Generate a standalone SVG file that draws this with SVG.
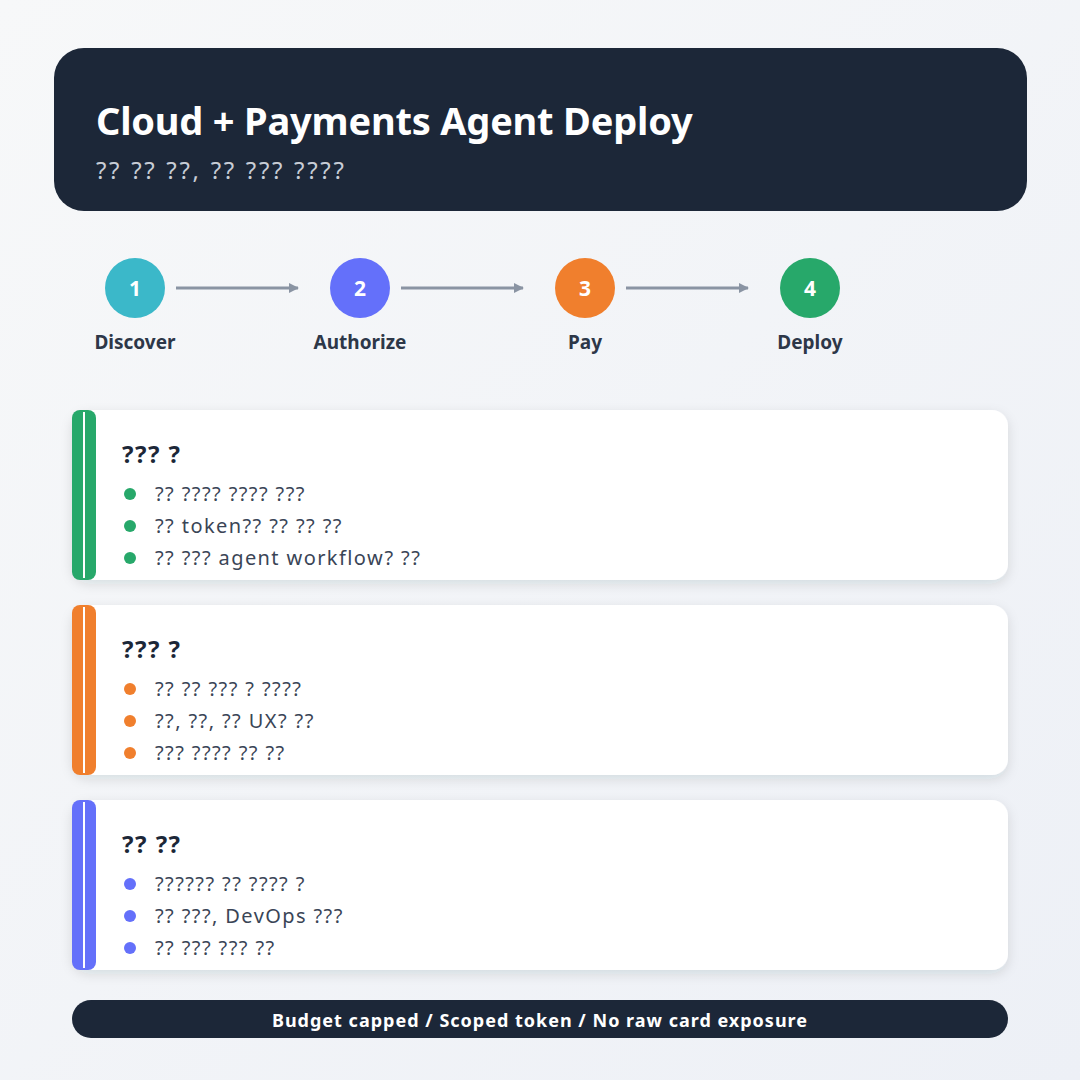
<svg xmlns="http://www.w3.org/2000/svg" width="1080" height="1080" viewBox="0 0 1080 1080">
<defs>
<linearGradient id="bg" x1="0" y1="0" x2="1" y2="1"><stop offset="0" stop-color="#f7f8f9"/><stop offset="1" stop-color="#edf0f6"/></linearGradient>
<filter id="sh" x="-5%" y="-20%" width="110%" height="140%"><feDropShadow dx="0" dy="4" stdDeviation="6" flood-color="#1c2738" flood-opacity="0.12"/></filter>
<marker id="ah" markerWidth="10" markerHeight="10" refX="9" refY="5" orient="auto" markerUnits="userSpaceOnUse"><path d="M0,0 L18,5 L0,10 Z" fill="#8a94a3" transform="scale(0.55,1)"/></marker>
<style>
text{font-family:"Noto Sans","DejaVu Sans",sans-serif}
.lbl{font-size:19px;font-weight:700;fill:#2d3748;text-anchor:middle}
.num{font-size:21px;font-weight:700;fill:#fff;text-anchor:middle}
.ct{font-size:24px;font-weight:700;fill:#1c2738;letter-spacing:1.5px}
.it{font-size:20px;fill:#3a4556;letter-spacing:1.4px}
.card{fill:#fff}
.arr{stroke:#8a94a3;stroke-width:3;fill:none}
</style>
</defs>
<rect width="1080" height="1080" fill="url(#bg)"/>
<g id="header">
<rect x="54" y="48" width="973" height="163" rx="30" fill="#1c2738"/>
<text x="96" y="135" font-size="38" font-weight="700" fill="#fff" letter-spacing="-0.2">Cloud + Payments Agent Deploy</text>
<text x="96" y="179" font-size="24" fill="#c8cdd6" letter-spacing="2.7">?? ?? ??, ?? ??? ????</text>
</g>
<g id="connectors">
<line class="arr" x1="176" y1="288" x2="298" y2="288" marker-end="url(#ah)"/>
<line class="arr" x1="401" y1="288" x2="523" y2="288" marker-end="url(#ah)"/>
<line class="arr" x1="626" y1="288" x2="748" y2="288" marker-end="url(#ah)"/>
</g>
<g id="step1"><circle cx="135" cy="288" r="30" fill="#3bb8c9"/><text class="num" x="135" y="296">1</text><text class="lbl" x="135" y="349">Discover</text></g>
<g id="step2"><circle cx="360" cy="288" r="30" fill="#6470fa"/><text class="num" x="360" y="296">2</text><text class="lbl" x="360" y="349">Authorize</text></g>
<g id="step3"><circle cx="585" cy="288" r="30" fill="#f07f2d"/><text class="num" x="585" y="296">3</text><text class="lbl" x="585" y="349">Pay</text></g>
<g id="step4"><circle cx="810" cy="288" r="30" fill="#27a86a"/><text class="num" x="810" y="296">4</text><text class="lbl" x="810" y="349">Deploy</text></g>
<g id="card1">
<rect class="card" x="72" y="410" width="936" height="170" rx="16" filter="url(#sh)"/>
<rect x="72" y="410" width="24" height="170" rx="8" fill="#27a86a"/><line x1="84" y1="412" x2="84" y2="578" stroke="#fff" stroke-width="2"/>
<text class="ct" x="122" y="463">??? ?</text>
<circle cx="130" cy="494" r="6" fill="#27a86a"/><text class="it" x="155" y="501">?? ???? ???? ???</text>
<circle cx="130" cy="526" r="6" fill="#27a86a"/><text class="it" x="155" y="533">?? token?? ?? ?? ??</text>
<circle cx="130" cy="558" r="6" fill="#27a86a"/><text class="it" x="155" y="565">?? ??? agent workflow? ??</text>
</g>
<g id="card2">
<rect class="card" x="72" y="605" width="936" height="170" rx="16" filter="url(#sh)"/>
<rect x="72" y="605" width="24" height="170" rx="8" fill="#f07f2d"/><line x1="84" y1="607" x2="84" y2="773" stroke="#fff" stroke-width="2"/>
<text class="ct" x="122" y="658">??? ?</text>
<circle cx="130" cy="689" r="6" fill="#f07f2d"/><text class="it" x="155" y="696">?? ?? ??? ? ????</text>
<circle cx="130" cy="721" r="6" fill="#f07f2d"/><text class="it" x="155" y="728">??, ??, ?? UX? ??</text>
<circle cx="130" cy="753" r="6" fill="#f07f2d"/><text class="it" x="155" y="760">??? ???? ?? ??</text>
</g>
<g id="card3">
<rect class="card" x="72" y="800" width="936" height="170" rx="16" filter="url(#sh)"/>
<rect x="72" y="800" width="24" height="170" rx="8" fill="#6470fa"/><line x1="84" y1="802" x2="84" y2="968" stroke="#fff" stroke-width="2"/>
<text class="ct" x="122" y="853">?? ??</text>
<circle cx="130" cy="884" r="6" fill="#6470fa"/><text class="it" x="155" y="891">?????? ?? ???? ?</text>
<circle cx="130" cy="916" r="6" fill="#6470fa"/><text class="it" x="155" y="923">?? ???, DevOps ???</text>
<circle cx="130" cy="948" r="6" fill="#6470fa"/><text class="it" x="155" y="955">?? ??? ??? ??</text>
</g>
<g id="footer">
<rect x="72" y="1000" width="936" height="38" rx="19" fill="#1c2738"/>
<text x="540" y="1027" font-size="18" font-weight="700" fill="#fff" text-anchor="middle" letter-spacing="1">Budget capped / Scoped token / No raw card exposure</text>
</g>
</svg>
